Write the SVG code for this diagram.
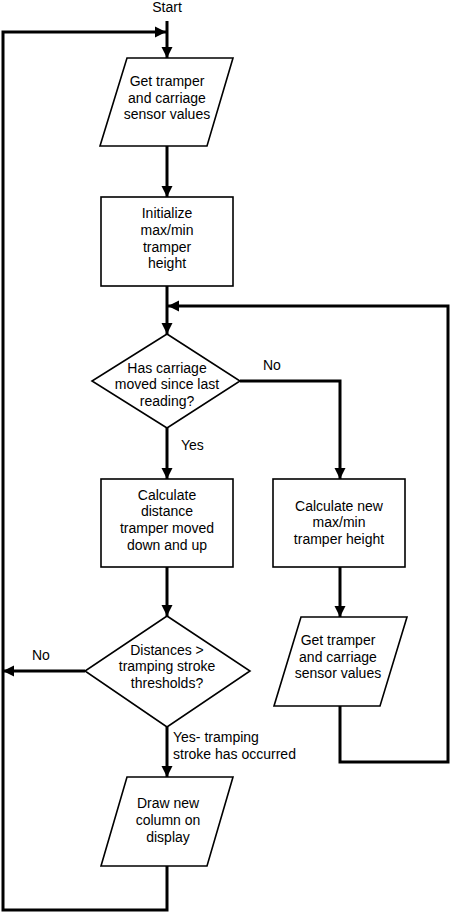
<svg xmlns="http://www.w3.org/2000/svg" width="452" height="912" viewBox="0 0 452 912">
<style>
.shape{fill:#fff;stroke:#000;stroke-width:1.6}
.conn{fill:none;stroke:#000;stroke-width:3;stroke-linejoin:miter}
.t{font-family:"Liberation Sans",Arial,sans-serif;font-size:14px;fill:#000;text-anchor:middle}
.l{font-family:"Liberation Sans",Arial,sans-serif;font-size:14px;fill:#000}
</style>
<defs>
<marker id="ah" viewBox="0 0 10 10" refX="10" refY="5" markerWidth="11" markerHeight="12" markerUnits="userSpaceOnUse" orient="auto">
<path d="M0,0 L10,5 L0,10 Z" fill="#000"/>
</marker>
</defs>
<rect width="452" height="912" fill="#fff"/>
<text class="t" x="167" y="12">Start</text>
<g id="connectors">
<path class="conn" d="M167,21 V58" marker-end="url(#ah)"/>
<path class="conn" d="M167,866 V910 H3 V32 H166" marker-end="url(#ah)"/>
<path class="conn" d="M167,146 V197" marker-end="url(#ah)"/>
<path class="conn" d="M167,286 V334" marker-end="url(#ah)"/>
<path class="conn" d="M340,706 V762 H448 V306 H168" marker-end="url(#ah)"/>
<path class="conn" d="M240,381 H340 V479" marker-end="url(#ah)"/>
<path class="conn" d="M167,428 V479" marker-end="url(#ah)"/>
<path class="conn" d="M167,567 V616" marker-end="url(#ah)"/>
<path class="conn" d="M340,567 V617" marker-end="url(#ah)"/>
<path class="conn" d="M85,671 H3" marker-end="url(#ah)"/>
<path class="conn" d="M167,727 V777" marker-end="url(#ah)"/>
<text class="l" x="263" y="370">No</text>
<text class="l" x="181" y="450">Yes</text>
<text class="l" x="32" y="660">No</text>
<text class="l" x="173" y="742">Yes- tramping</text>
<text class="l" x="173" y="759">stroke has occurred</text>
</g>
<g id="get-sensors-1">
<polygon class="shape" points="127,58 233,58 207,146 100,146"/>
<text class="t" x="167" y="86">Get tramper</text>
<text class="t" x="167" y="103">and carriage</text>
<text class="t" x="167" y="119">sensor values</text>
</g>
<g id="init-height">
<rect class="shape" x="101" y="197" width="132" height="89"/>
<text class="t" x="167" y="218">Initialize</text>
<text class="t" x="167" y="235">max/min</text>
<text class="t" x="167" y="252">tramper</text>
<text class="t" x="167" y="268">height</text>
</g>
<g id="carriage-moved">
<polygon class="shape" points="167,334 240,381 167,428 92,381"/>
<text class="t" x="167" y="373">Has carriage</text>
<text class="t" x="167" y="389">moved since last</text>
<text class="t" x="167" y="406">reading?</text>
</g>
<g id="calc-distance">
<rect class="shape" x="101" y="479" width="132" height="88"/>
<text class="t" x="167" y="500">Calculate</text>
<text class="t" x="167" y="516">distance</text>
<text class="t" x="167" y="533">tramper moved</text>
<text class="t" x="167" y="550">down and up</text>
</g>
<g id="calc-new-height">
<rect class="shape" x="273" y="479" width="132" height="88"/>
<text class="t" x="339" y="511">Calculate new</text>
<text class="t" x="339" y="527">max/min</text>
<text class="t" x="339" y="544">tramper height</text>
</g>
<g id="get-sensors-2">
<polygon class="shape" points="301,617 407,617 380,706 274,706"/>
<text class="t" x="338" y="645">Get tramper</text>
<text class="t" x="338" y="662">and carriage</text>
<text class="t" x="338" y="678">sensor values</text>
</g>
<g id="threshold">
<polygon class="shape" points="167,616 250,671 167,727 85,671"/>
<text class="t" x="167" y="655">Distances &gt;</text>
<text class="t" x="167" y="671">tramping stroke</text>
<text class="t" x="167" y="688">thresholds?</text>
</g>
<g id="draw-column">
<polygon class="shape" points="127,777 233,777 207,866 101,866"/>
<text class="t" x="168" y="808">Draw new</text>
<text class="t" x="168" y="825">column on</text>
<text class="t" x="168" y="842">display</text>
</g>
</svg>
